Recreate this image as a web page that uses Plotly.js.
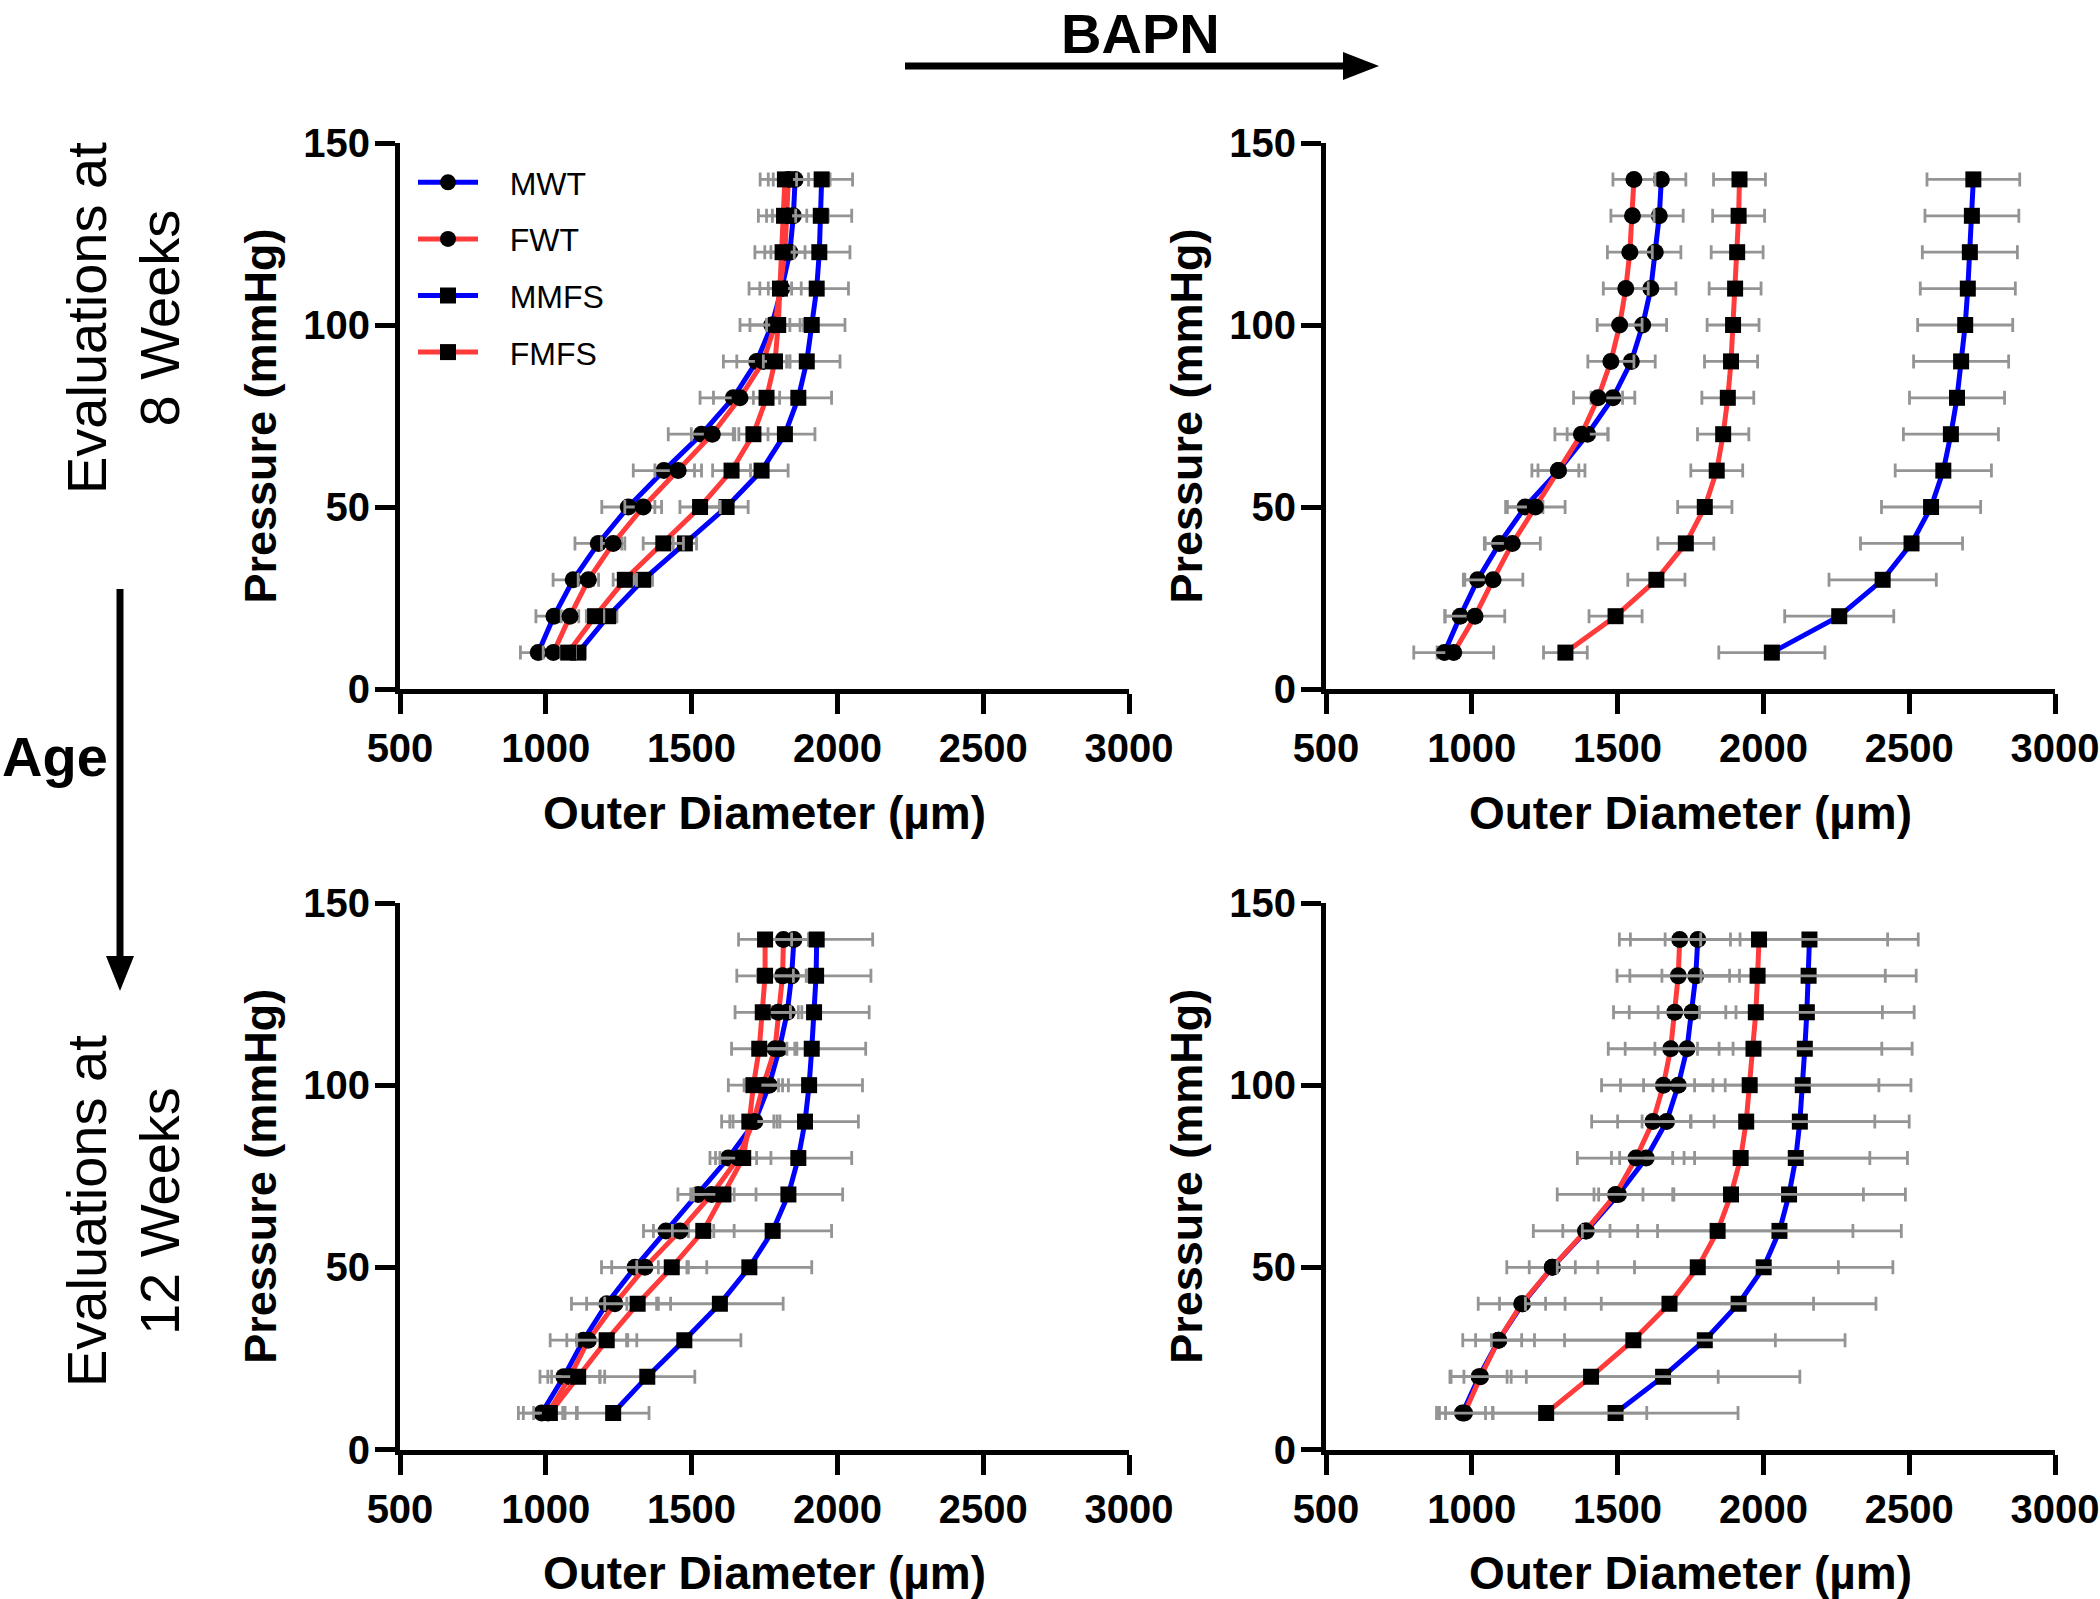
<!DOCTYPE html>
<html><head><meta charset="utf-8">
<script src="https://cdn.plot.ly/plotly-3.0.1.min.js"></script>
<style>html,body{margin:0;padding:0;background:#fff}</style>
</head><body>
<div id="chart" style="width:2100px;height:1599px"></div>
<script>
// ---------------- data ----------------
const pressure = [10, 20, 30, 40, 50, 60, 70, 80, 90, 100, 110, 120, 130, 140];
const xTicks = [500, 1000, 1500, 2000, 2500, 3000];
const yTicks = [0, 50, 100, 150];
const seriesNames = ['MWT', 'FWT', 'MMFS', 'FMFS'];

// Evaluations at 8 weeks, no BAPN
const w8_MWT  = [974, 1028, 1094, 1180, 1283, 1405, 1534, 1643, 1723, 1775, 1809, 1837, 1849, 1855];
const w8_FWT  = [1026, 1083, 1146, 1231, 1334, 1454, 1571, 1666, 1746, 1786, 1805, 1820, 1826, 1832];
const w8_MMFS = [1111, 1214, 1334, 1477, 1620, 1740, 1820, 1866, 1895, 1912, 1929, 1938, 1943, 1946];
const w8_FMFS = [1077, 1169, 1271, 1403, 1529, 1637, 1712, 1757, 1786, 1797, 1803, 1812, 1817, 1820];
const w8_MWT_err  = [61, 62, 69, 80, 91, 105, 114, 114, 114, 109, 112, 120, 120, 120];
const w8_FWT_err  = [35, 30, 35, 40, 63, 80, 72, 91, 91, 86, 71, 69, 69, 69];
const w8_MMFS_err = [25, 30, 32, 40, 74, 91, 103, 114, 114, 114, 109, 105, 106, 106];
const w8_FMFS_err = [25, 30, 40, 69, 69, 65, 50, 45, 40, 40, 40, 40, 40, 40];

// Evaluations at 8 weeks, BAPN
const w8b_MWT  = [906, 960, 1020, 1095, 1183, 1297, 1397, 1484, 1547, 1586, 1614, 1629, 1643, 1650];
const w8b_FWT  = [938, 1011, 1073, 1139, 1218, 1297, 1376, 1433, 1477, 1507, 1528, 1542, 1551, 1556];
const w8b_MMFS = [2029, 2260, 2409, 2508, 2575, 2617, 2643, 2664, 2678, 2692, 2701, 2708, 2715, 2720];
const w8b_FMFS = [1321, 1493, 1633, 1734, 1799, 1840, 1862, 1878, 1889, 1896, 1903, 1910, 1915, 1918];
const w8b_MWT_err  = [25, 53, 44, 49, 61, 70, 70, 75, 82, 82, 86, 88, 82, 84];
const w8b_FWT_err  = [137, 102, 102, 96, 102, 91, 91, 84, 79, 77, 77, 77, 74, 72];
const w8b_MMFS_err = [182, 187, 184, 175, 170, 165, 163, 163, 163, 163, 163, 163, 161, 159];
const w8b_FMFS_err = [75, 91, 98, 96, 93, 89, 88, 89, 91, 89, 89, 89, 89, 89];

// Evaluations at 12 weeks, no BAPN
const w12_MWT  = [986, 1062, 1129, 1209, 1306, 1412, 1523, 1626, 1717, 1766, 1801, 1828, 1843, 1851];
const w12_FWT  = [1008, 1083, 1146, 1237, 1340, 1460, 1569, 1660, 1712, 1746, 1786, 1797, 1812, 1815];
const w12_MMFS = [1231, 1348, 1475, 1597, 1698, 1778, 1832, 1866, 1889, 1903, 1912, 1920, 1927, 1929];
const w12_FMFS = [1014, 1111, 1209, 1315, 1432, 1540, 1609, 1677, 1698, 1712, 1732, 1744, 1752, 1752];
const w12_MWT_err  = [80, 55, 57, 69, 80, 77, 70, 63, 86, 66, 60, 50, 50, 50];
const w12_FWT_err  = [50, 103, 131, 149, 149, 91, 63, 63, 70, 66, 68, 69, 86, 86];
const w12_MMFS_err = [123, 163, 194, 217, 214, 202, 186, 183, 183, 183, 185, 189, 188, 192];
const w12_FMFS_err = [91, 91, 103, 113, 120, 106, 112, 95, 95, 86, 95, 95, 97, 91];

// Evaluations at 12 weeks, BAPN
const w12b_MWT  = [968, 1025, 1092, 1174, 1276, 1393, 1503, 1598, 1668, 1708, 1738, 1755, 1768, 1775];
const w12b_FWT  = [975, 1030, 1092, 1171, 1276, 1390, 1493, 1563, 1621, 1657, 1682, 1696, 1708, 1713];
const w12b_MMFS = [1493, 1656, 1799, 1915, 2001, 2055, 2088, 2111, 2125, 2135, 2142, 2149, 2155, 2158];
const w12b_FMFS = [1255, 1409, 1554, 1678, 1775, 1843, 1889, 1922, 1941, 1953, 1966, 1974, 1980, 1985];
const w12b_MWT_err  = [79, 96, 79, 79, 79, 81, 84, 91, 84, 119, 110, 116, 116, 112];
const w12b_FWT_err  = [96, 105, 123, 149, 156, 179, 200, 201, 210, 212, 214, 210, 210, 207];
const w12b_MMFS_err = [420, 469, 481, 471, 443, 418, 399, 383, 375, 371, 368, 368, 369, 373];
const w12b_FMFS_err = [345, 436, 487, 494, 482, 464, 454, 443, 441, 443, 440, 434, 438, 441];

// ---------------- styling ----------------
const W = 2100, H = 1599;
const FONT = 'Liberation Sans, Arial, Helvetica, sans-serif';
const colors  = ['#0000FF', '#FF3B3B', '#0000FF', '#FF3B3B'];
const symbols = ['circle', 'circle', 'square', 'square'];
const msizes  = [17, 17, 16, 16];
const errColor = 'rgb(148,148,148)';
const px = v => v / W;
const py = v => 1 - v / H;
const legendPad = '\u00a0\u00a0\u00a0';

const panels = [
  {n: 1, vals: [w8_MWT, w8_FWT, w8_MMFS, w8_FMFS], errs: [w8_MWT_err, w8_FWT_err, w8_MMFS_err, w8_FMFS_err], legend: true},
  {n: 2, vals: [w8b_MWT, w8b_FWT, w8b_MMFS, w8b_FMFS], errs: [w8b_MWT_err, w8b_FWT_err, w8b_MMFS_err, w8b_FMFS_err], legend: false},
  {n: 3, vals: [w12_MWT, w12_FWT, w12_MMFS, w12_FMFS], errs: [w12_MWT_err, w12_FWT_err, w12_MMFS_err, w12_FMFS_err], legend: false},
  {n: 4, vals: [w12b_MWT, w12b_FWT, w12b_MMFS, w12b_FMFS], errs: [w12b_MWT_err, w12b_FWT_err, w12b_MMFS_err, w12b_FMFS_err], legend: false}
];

const traces = [];
panels.forEach(p => {
  const xa = p.n === 1 ? 'x' : 'x' + p.n;
  const ya = p.n === 1 ? 'y' : 'y' + p.n;
  seriesNames.forEach((name, i) => {
    traces.push({
      type: 'scatter', mode: 'lines+markers', name: legendPad + name, legendgroup: name,
      showlegend: p.legend, x: p.vals[i], y: pressure, xaxis: xa, yaxis: ya,
      line: {color: colors[i], width: 5},
      marker: {symbol: symbols[i], size: msizes[i], color: '#000', line: {width: 0}},
      error_x: {type: 'data', array: p.errs[i], visible: true, color: errColor, thickness: 2.8, width: 7},
      hoverinfo: 'skip'
    });
  });
});

const xDomL = [px(400), px(1129)], xDomR = [px(1326), px(2055)];
const yDomT = [py(689), py(143)], yDomB = [py(1449.5), py(903)];

function xAxis(domain, anchor) {
  return {
    domain: domain, anchor: anchor, range: [500, 3000], autorange: false,
    tickmode: 'array', tickvals: xTicks, ticktext: xTicks.map(String),
    showline: true, linecolor: '#000', linewidth: 5,
    ticks: 'outside', ticklen: 20, tickwidth: 5, tickcolor: '#000',
    showgrid: false, zeroline: false, automargin: false,
    tickfont: {family: FONT, size: 40, color: '#000', weight: 700},
    title: {text: 'Outer Diameter (\u00b5m)', font: {family: FONT, size: 46, color: '#000', weight: 700}, standoff: 29}
  };
}
function yAxis(domain, anchor) {
  return {
    domain: domain, anchor: anchor, range: [0, 150], autorange: false,
    tickmode: 'array', tickvals: yTicks, ticktext: yTicks.map(String),
    showline: true, linecolor: '#000', linewidth: 5,
    ticks: 'outside', ticklen: 20, tickwidth: 5, tickcolor: '#000',
    showgrid: false, zeroline: false, automargin: false,
    ticklabelstandoff: -3,
    tickfont: {family: FONT, size: 40, color: '#000', weight: 700},
    title: {text: 'Pressure (mmHg)', font: {family: FONT, size: 45, color: '#000', weight: 700}, standoff: 14}
  };
}

const shapes = [
  // BAPN arrow
  {type: 'line', xref: 'paper', yref: 'paper', x0: px(905), x1: px(1350), y0: py(66), y1: py(66), line: {color: '#000', width: 7}},
  {type: 'path', xref: 'paper', yref: 'paper',
   path: `M${px(1343)},${py(52)} L${px(1379)},${py(66)} L${px(1343)},${py(80)} Z`, fillcolor: '#000', line: {width: 0}},
  // Age arrow
  {type: 'line', xref: 'paper', yref: 'paper', x0: px(120), x1: px(120), y0: py(589), y1: py(962), line: {color: '#000', width: 7}},
  {type: 'path', xref: 'paper', yref: 'paper',
   path: `M${px(106)},${py(956)} L${px(134)},${py(956)} L${px(120)},${py(991)} Z`, fillcolor: '#000', line: {width: 0}}
];

const annotations = [
  {text: 'BAPN', xref: 'paper', yref: 'paper', x: px(1140), y: 1, xanchor: 'center', yanchor: 'top',
   showarrow: false, font: {family: FONT, size: 56, color: '#000', weight: 700}},
  {text: 'Age', xref: 'paper', yref: 'paper', x: px(55), y: py(757), xanchor: 'center', yanchor: 'middle',
   showarrow: false, font: {family: FONT, size: 56, color: '#000', weight: 700}},
  {text: 'Evaluations at<br>8 Weeks', xref: 'paper', yref: 'paper', x: px(123), y: py(318), xanchor: 'center', yanchor: 'middle',
   textangle: -90, showarrow: false, align: 'center', font: {family: FONT, size: 56, color: '#000'}},
  {text: 'Evaluations at<br>12 Weeks', xref: 'paper', yref: 'paper', x: px(123), y: py(1211), xanchor: 'center', yanchor: 'middle',
   textangle: -90, showarrow: false, align: 'center', font: {family: FONT, size: 56, color: '#000'}}
];

const layout = {
  width: W, height: H,
  margin: {l: 0, r: 0, t: 0, b: 0, pad: 0},
  paper_bgcolor: '#fff', plot_bgcolor: 'rgba(0,0,0,0)',
  font: {family: FONT, color: '#000'},
  showlegend: true,
  legend: {x: px(413), y: py(155), xanchor: 'left', yanchor: 'top', bgcolor: 'rgba(0,0,0,0)',
           font: {family: FONT, size: 32, color: '#000'}, itemwidth: 60, tracegroupgap: 12, traceorder: 'grouped'},
  xaxis: xAxis(xDomL, 'y'), yaxis: yAxis(yDomT, 'x'),
  xaxis2: xAxis(xDomR, 'y2'), yaxis2: yAxis(yDomT, 'x2'),
  xaxis3: xAxis(xDomL, 'y3'), yaxis3: yAxis(yDomB, 'x3'),
  xaxis4: xAxis(xDomR, 'y4'), yaxis4: yAxis(yDomB, 'x4'),
  shapes: shapes, annotations: annotations
};

Plotly.newPlot('chart', traces, layout, {staticPlot: true, displayModeBar: false});
</script>
</body></html>
